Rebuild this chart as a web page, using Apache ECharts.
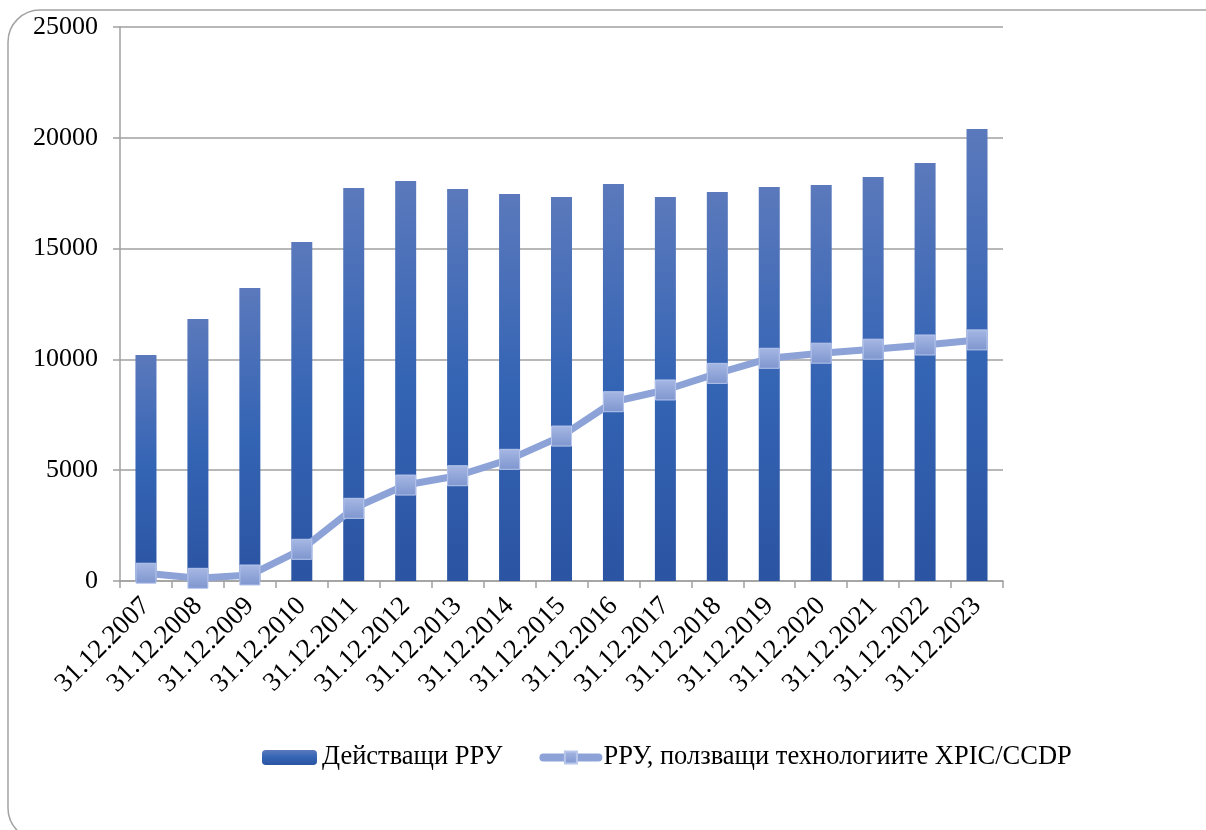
<!DOCTYPE html>
<html>
<head>
<meta charset="utf-8">
<script src="https://cdn.jsdelivr.net/npm/echarts@6/dist/echarts.min.js"></script>
<style>
  html, body { margin: 0; padding: 0; background: #fff; }
  #chart { width: 1206px; height: 830px; }
</style>
</head>
<body>
<div id="chart"></div>
<script>
var categories = ['31.12.2007', '31.12.2008', '31.12.2009', '31.12.2010', '31.12.2011', '31.12.2012',
  '31.12.2013', '31.12.2014', '31.12.2015', '31.12.2016', '31.12.2017', '31.12.2018',
  '31.12.2019', '31.12.2020', '31.12.2021', '31.12.2022', '31.12.2023'];
var activeLinks = [10200, 11820, 13220, 15300, 17730, 18050, 17690, 17460, 17330, 17920,
  17330, 17550, 17780, 17870, 18230, 18860, 20400];
var xpicLinks = [350, 120, 270, 1430, 3280, 4330, 4750, 5490, 6540, 8090,
  8620, 9370, 10050, 10280, 10460, 10650, 10880];
var seriesNames = ['Действащи РРУ', 'РРУ, ползващи технологиите XPIC/CCDP'];

var FONT = '"Liberation Serif", "Times New Roman", serif';
var chart = echarts.init(document.getElementById('chart'));

chart.setOption({
  animation: false,
  textStyle: {fontFamily: FONT},
  graphic: [{
    type: 'rect',
    shape: {x: 8, y: 10, width: 1240, height: 830, r: 32},
    style: {fill: 'none', stroke: '#a3a3a3', lineWidth: 1.5},
    silent: true
  }],
  legend: {
    left: 257,
    top: 739,
    itemWidth: 55,
    itemHeight: 15,
    itemGap: 37,
    textStyle: {fontFamily: FONT, fontSize: 26.5, lineHeight: 26, color: '#000'},
    data: [
      {name: seriesNames[0]},
      {name: seriesNames[1], lineStyle: {width: 8, cap: 'round'}}
    ]
  },
  grid: {left: 120, right: 203, top: 27, bottom: 249},
  xAxis: {
    type: 'category',
    data: categories,
    axisLine: {lineStyle: {color: '#a0a0a0', width: 1.5}},
    axisTick: {show: true, length: 7, lineStyle: {color: '#a0a0a0', width: 1.5}},
    axisLabel: {
      rotate: 45,
      margin: 21,
      fontSize: 27,
      color: '#000',
      fontFamily: FONT
    }
  },
  yAxis: {
    type: 'value',
    min: 0,
    max: 25000,
    interval: 5000,
    axisLine: {show: true, lineStyle: {color: '#a0a0a0', width: 1.5}},
    axisTick: {show: true, length: 7, lineStyle: {color: '#a0a0a0', width: 1.5}},
    axisLabel: {
      margin: 22,
      fontSize: 26,
      color: '#000',
      fontFamily: FONT,
      formatter: function(v) { return String(v); }
    },
    splitLine: {lineStyle: {color: '#a0a0a0', width: 1.5}}
  },
  series: [
    {
      name: seriesNames[0],
      type: 'bar',
      data: activeLinks,
      barWidth: 21,
      itemStyle: {
        color: new echarts.graphic.LinearGradient(0, 0, 0, 1, [
          {offset: 0, color: '#5b79bc'},
          {offset: 0.5, color: '#3464b4'},
          {offset: 1, color: '#2b54a2'}
        ])
      }
    },
    {
      name: seriesNames[1],
      type: 'line',
      data: xpicLinks,
      symbol: 'rect',
      symbolSize: 20,
      lineStyle: {color: '#8da3d8', width: 7},
      itemStyle: {
        color: new echarts.graphic.LinearGradient(0, 0, 0, 1, [
          {offset: 0, color: '#a6b7e3'},
          {offset: 1, color: '#7e96cf'}
        ]),
        borderColor: '#b8c6ec',
        borderWidth: 1
      }
    }
  ]
});
</script>
</body>
</html>
